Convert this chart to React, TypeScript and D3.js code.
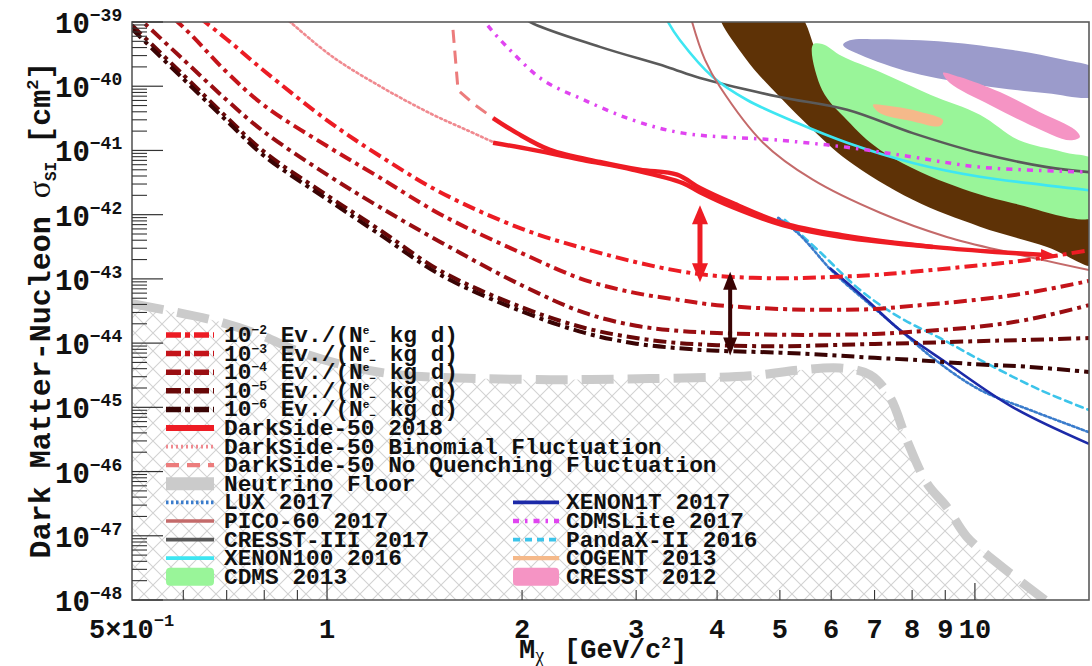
import React from "react";
import * as d3 from "d3";

type Pt = [number, number];

// ---------- data ----------
// Mass grid (GeV/c^2) for the projected-sensitivity curves
const MASS_GRID = [0.5, 0.6, 0.7, 0.8, 1.0, 1.2, 1.5, 2.0, 2.5, 3, 3.5, 4, 5, 6, 7, 8, 10, 12, 15];

// Projected sensitivity (cm^2) for background levels of 1e-2 ... 1e-6 Ev./(N_e- kg d)
const PROJ_1E2 = [6e-39, 1.8e-39, 5.4e-40, 1.73e-40, 2.95e-41, 8.5e-42, 2.2e-42, 6.0e-43, 2.95e-43, 1.82e-43, 1.32e-43, 1.11e-43, 1.02e-43, 1.07e-43, 1.15e-43, 1.29e-43, 1.6e-43, 1.95e-43, 2.8e-43];
const PROJ_1E3 = [4e-39, 8.3e-40, 1.66e-40, 5.0e-41, 1.17e-41, 3.9e-42, 1.0e-42, 2.5e-43, 9.6e-44, 6.0e-44, 4.7e-44, 3.9e-44, 3.4e-44, 3.3e-44, 3.4e-44, 3.8e-44, 4.7e-44, 6.0e-44, 9.3e-44];
const PROJ_1E4 = [1.45e-39, 2.6e-40, 6.1e-41, 1.94e-41, 4.2e-42, 1.35e-42, 3.7e-43, 7.9e-44, 2.95e-44, 1.86e-44, 1.55e-44, 1.44e-44, 1.35e-44, 1.35e-44, 1.39e-44, 1.5e-44, 1.78e-44, 2.3e-44, 3.9e-44];
const PROJ_1E5 = [8.9e-40, 1.5e-40, 3.3e-41, 9.5e-42, 2.0e-42, 6.0e-43, 1.32e-43, 3.6e-44, 1.72e-44, 1.2e-44, 1.0e-44, 9.3e-45, 8.9e-45, 9.3e-45, 9.7e-45, 1.0e-44, 1.07e-44, 1.12e-44, 1.2e-44];
const PROJ_1E6 = [7.8e-40, 1.3e-40, 2.9e-41, 8.2e-42, 1.74e-42, 5.1e-43, 1.14e-43, 3.1e-44, 1.44e-44, 9.8e-45, 8.3e-45, 7.6e-45, 7.1e-45, 6.5e-45, 5.9e-45, 5.5e-45, 4.7e-45, 4.3e-45, 3.55e-45];
const PROJ_EXPONENTS = ["-2", "-3", "-4", "-5", "-6"];

// Experimental limits: [mass GeV/c^2, cross-section cm^2]
const DS50_UPPER: Pt[] = [[1.804, 3.2e-41], [1.965, 1.86e-41], [2.209, 1.02e-41], [2.638, 6.6e-42], [3.04, 5.0e-42], [3.47, 4.2e-42], [3.764, 2.6e-42], [4.23, 1.51e-42], [5.05, 7.4e-43], [6.23, 4.8e-43], [8.61, 3.15e-43], [10.93, 2.6e-43], [12.83, 2.35e-43]];
const DS50_LOWER: Pt[] = [[1.804, 1.32e-41], [2.079, 1.02e-41], [2.484, 7.1e-42], [2.967, 5.0e-42], [3.543, 3.1e-42], [3.764, 2.24e-42], [4.23, 1.31e-42], [5.05, 6.9e-43], [6.23, 4.5e-43], [8.61, 3.15e-43]];
const DS50_BINOMIAL: Pt[] = [[0.85, 1.3e-39], [0.877, 1e-39], [1.021, 2.85e-40], [1.22, 9.4e-41], [1.457, 3.6e-41], [1.639, 2.1e-41], [1.804, 1.35e-41]];
const DS50_NOQUENCH: Pt[] = [[1.555, 1.6e-39], [1.593, 8.7e-41], [1.692, 5.1e-41], [1.804, 3.2e-41]];
const CDMSLITE_2017: Pt[] = [[1.70, 1.6e-39], [1.753, 1e-39], [1.916, 3.66e-40], [2.154, 1.25e-40], [2.484, 6.2e-41], [2.967, 2.96e-41], [3.543, 1.86e-41], [5.0, 1.44e-41], [6.35, 1.12e-41], [8.02, 7.9e-42], [10.18, 5.5e-42], [15, 4.6e-42]];
const CRESST3_2017: Pt[] = [[1.95, 1.5e-39], [2.058, 1e-39], [2.638, 4.1e-40], [3.347, 2.0e-40], [3.764, 1.34e-40], [5.0, 6.8e-41], [6.35, 4.3e-41], [8.02, 1.86e-41], [10.18, 9.1e-42], [12.92, 5.5e-42], [15, 4.6e-42]];
const XENON100_2016: Pt[] = [[3.30, 1.5e-39], [3.36, 1e-39], [3.506, 5.2e-40], [3.94, 1.39e-40], [4.45, 6.1e-41], [5.31, 2.7e-41], [6.35, 1.32e-41], [8.02, 6.4e-42], [10.18, 3.9e-42], [15, 2.4e-42]];
const PICO60_2017: Pt[] = [[3.62, 1.6e-39], [3.66, 1e-39], [3.83, 2.6e-40], [4.04, 9.8e-41], [4.71, 1.32e-41], [5.62, 3.5e-42], [7.14, 1.07e-42], [9.05, 4.5e-43], [11.45, 2.5e-43], [15, 1.37e-43]];
const LUX_2017: Pt[] = [[4.97, 8.9e-43], [5.37, 4.8e-43], [6.04, 1.28e-43], [6.81, 4.4e-44], [7.66, 1.6e-44], [8.68, 5.5e-45], [10.18, 1.87e-45], [12.16, 9.1e-46], [15, 4.1e-46]];
const PANDAX2_2016: Pt[] = [[5.09, 8.3e-43], [5.77, 2.6e-43], [6.65, 6.7e-44], [7.66, 2.5e-44], [8.83, 1.2e-44], [10.18, 5.5e-45], [12.6, 1.87e-45], [15, 9.1e-46]];
const XENON1T_2017: Pt[] = [[5.97, 1.48e-43], [6.81, 4.7e-44], [7.66, 1.6e-44], [9.05, 4.9e-45], [11.45, 1.0e-45], [15, 2.7e-46]];
const NEUTRINO_FLOOR: Pt[] = [[0.5, 4.1e-44], [0.676, 2.2e-44], [0.788, 1.34e-44], [0.908, 7.3e-45], [1.085, 4.3e-45], [1.296, 3.2e-45], [1.548, 2.9e-45], [2.209, 2.7e-45], [3.15, 2.8e-45], [4.5, 3.1e-45], [5.37, 3.8e-45], [6.19, 4.1e-45], [6.89, 3.2e-45], [7.39, 1.45e-45], [7.85, 3.1e-46], [8.43, 6.6e-47], [9.05, 2.8e-47], [9.72, 9.6e-48], [10.81, 3.8e-48], [12.83, 1e-48]];

// Signal / allowed regions (closed contours)
const DAMA_REGION: Pt[] = [[4.04, 1.5e-39], [5.28, 1.5e-39], [5.66, 3.9e-40], [5.97, 7e-41], [6.65, 2.5e-41], [7.66, 1.02e-41], [9.48, 4.2e-42], [11.73, 2.0e-42], [15.5, 1.6e-42], [15.5, 1.6e-43], [12.92, 3.15e-43], [10.18, 6.5e-43], [8.02, 1.7e-42], [6.35, 7.1e-42], [5.62, 2.1e-41], [5.0, 6.8e-41], [4.42, 2.75e-40]];
const CDMS_2013: Pt[] = [[5.62, 4.4e-40], [5.81, 4.55e-40], [6.23, 2.95e-40], [7.14, 1.66e-40], [8.55, 7.3e-41], [10.18, 3.6e-41], [11.7, 1.44e-41], [13.67, 9.5e-42], [15.5, 6.5e-42], [15.5, 9.5e-43], [11.45, 1.51e-42], [9.05, 3.1e-42], [7.14, 1.02e-41], [6.35, 2.95e-41], [5.81, 8.7e-41]];
const LAVENDER_REGION: Pt[] = [[6.26, 4.4e-40], [6.41, 5.2e-40], [7.14, 5.4e-40], [9.05, 4.9e-40], [11.45, 3.66e-40], [13.67, 2.6e-40], [15.3, 1.9e-40], [15.6, 1.2e-40], [15.3, 7e-41], [12.92, 7.8e-41], [10.18, 1.04e-40], [8.02, 1.62e-40], [6.65, 3.1e-40]];
const CRESST_2012: Pt[] = [[8.93, 1.62e-40], [9.48, 1.39e-40], [10.93, 8.1e-41], [12.6, 3.95e-41], [14.27, 2.1e-41], [14.52, 1.62e-41], [14.02, 1.44e-41], [12.16, 2.5e-41], [10.55, 5.1e-41], [9.15, 1.12e-40]];
const COGENT_2013: Pt[] = [[6.96, 5.1e-41], [7.39, 4.9e-41], [8.22, 4.0e-41], [8.93, 2.95e-41], [8.83, 2.4e-41], [7.94, 2.9e-41], [7.14, 3.8e-41]];

// Gain arrows: [mass, from, to]
const RED_ARROW: [number, number, number] = [3.764, 1.4e-42, 8.9e-44];
const DARK_ARROW: [number, number, number] = [4.19, 1.29e-43, 6.4e-45];

// Axis ticks
const Y_EXPONENTS = [-39, -40, -41, -42, -43, -44, -45, -46, -47, -48];
const X_LABELS = [1, 2, 3, 4, 5, 6, 7, 8, 9, 10];
const X_MINOR = [0.6, 0.7, 0.8, 0.9, 2, 3, 4, 5, 6, 7, 8, 9];

// Legend labels
const LEGEND_COL1 = ["DarkSide-50 2018", "DarkSide-50 Binomial Fluctuation", "DarkSide-50 No Quenching Fluctuation", "Neutrino Floor", "LUX 2017", "PICO-60 2017", "CRESST-III 2017", "XENON100 2016", "CDMS 2013"];
const LEGEND_COL2 = ["XENON1T 2017", "CDMSLite 2017", "PandaX-II 2016", "COGENT 2013", "CRESST 2012"];

// ---------- styles ----------
const W = 1092, H = 666;
const M = { left: 132, right: 1089, top: 22, bottom: 600 };
const MONO = '"Liberation Mono", "DejaVu Sans Mono", monospace';
const SERIF = '"Liberation Serif", "DejaVu Serif", serif';
const PROJ_COLORS = ["#ec1c24", "#c4141a", "#9a0e12", "#690808", "#3a0404"];
const PROJ_DASH = "13,5,4,5";
const MINUS = "\u2212";

type LineStyle = { stroke: string; width: number; dash?: string; fill?: boolean };
const STYLE: Record<string, LineStyle> = {
  "DarkSide-50 2018": { stroke: "#ee1c24", width: 4.5 },
  "DarkSide-50 Binomial Fluctuation": { stroke: "#f08a90", width: 2.6, dash: "2,3" },
  "DarkSide-50 No Quenching Fluctuation": { stroke: "#ec7c7c", width: 3, dash: "13,8" },
  "Neutrino Floor": { stroke: "#cbcbcb", width: 9, dash: "32,14" },
  "LUX 2017": { stroke: "#3a7ccc", width: 2.6, dash: "2.5,2.5" },
  "PICO-60 2017": { stroke: "#c46a6a", width: 2 },
  "CRESST-III 2017": { stroke: "#5a5a5a", width: 2.6 },
  "XENON100 2016": { stroke: "#3ee6f2", width: 2.6 },
  "CDMS 2013": { stroke: "#99f599", width: 0, fill: true },
  "XENON1T 2017": { stroke: "#1c2aa8", width: 2.6 },
  "CDMSLite 2017": { stroke: "#e044f0", width: 3.5, dash: "6,6,2.5,6" },
  "PandaX-II 2016": { stroke: "#3cc4ea", width: 2.6, dash: "7,5" },
  "COGENT 2013": { stroke: "#f5b98a", width: 3 },
  "CRESST 2012": { stroke: "#f594c4", width: 0, fill: true },
};

export default function App() {
  const x = d3.scaleLog().domain([0.5, 15]).range([M.left, M.right]);
  const y = d3.scaleLog().domain([1e-48, 1e-39]).range([M.bottom, M.top]);

  const smooth = d3.line<Pt>().x((d) => x(d[0])).y((d) => y(d[1])).curve(d3.curveCatmullRom.alpha(0.5));
  const straight = d3.line<Pt>().x((d) => x(d[0])).y((d) => y(d[1])).curve(d3.curveLinear);
  const closed = d3.line<Pt>().x((d) => x(d[0])).y((d) => y(d[1])).curve(d3.curveCatmullRomClosed.alpha(0.5));
  const floorArea = d3
    .area<Pt>()
    .x((d) => x(d[0]))
    .y0(M.bottom)
    .y1((d) => y(d[1]))
    .curve(d3.curveCatmullRom.alpha(0.5));

  const projSeries = [PROJ_1E2, PROJ_1E3, PROJ_1E4, PROJ_1E5, PROJ_1E6].map((vals) =>
    MASS_GRID.map((m, i) => [m, vals[i]] as Pt)
  );

  const limitPath = (name: string, pts: Pt[], gen = smooth) => {
    const s = STYLE[name];
    return (
      <path
        d={gen(pts) || ""}
        fill="none"
        stroke={s.stroke}
        strokeWidth={s.width}
        strokeDasharray={s.dash}
        strokeLinecap={s.dash && s.width < 3 ? "round" : "butt"}
        strokeLinejoin="round"
      />
    );
  };

  const arrow = (a: [number, number, number], color: string, shaft: number, hw: number, hh: number) => {
    const ax = x(a[0]);
    const y1 = y(a[1]);
    const y2 = y(a[2]);
    return (
      <g>
        <line x1={ax} x2={ax} y1={y1 + hh - 2} y2={y2 - hh + 2} stroke={color} strokeWidth={shaft} />
        <polygon points={`${ax},${y1} ${ax - hw},${y1 + hh} ${ax + hw},${y1 + hh}`} fill={color} />
        <polygon points={`${ax},${y2} ${ax - hw},${y2 - hh} ${ax + hw},${y2 - hh}`} fill={color} />
      </g>
    );
  };

  // minor y ticks
  const yMinor: number[] = [];
  for (let e = -48; e < -39; e++) for (let j = 2; j <= 9; j++) yMinor.push(j * Math.pow(10, e));

  // legend geometry
  const rowY = (i: number) => 335 + i * 18.6;
  const sym1 = [166, 214];
  const sym2 = [513, 559];
  const txt1 = 224;
  const txt2 = 566;
  const LFS = 22.8;

  const legendSymbol = (name: string, x0: number, x1: number, cy: number) => {
    const s = STYLE[name];
    if (s.fill) return <rect x={x0} y={cy - 9} width={x1 - x0} height={18} rx={4} fill={s.stroke} />;
    const w = name === "Neutrino Floor" ? 13 : name === "DarkSide-50 2018" ? 6 : Math.max(s.width + 1.2, 3.5);
    const dash = name === "Neutrino Floor" ? undefined : s.dash;
    return <line x1={x0} x2={x1} y1={cy} y2={cy} stroke={s.stroke} strokeWidth={w} strokeDasharray={dash} />;
  };

  const ds50End = DS50_UPPER[DS50_UPPER.length - 1];
  const ex = x(ds50End[0]);
  const ey = y(ds50End[1]);

  return (
    <svg
      width={W}
      height={H}
      viewBox={`0 0 ${W} ${H}`}
      style={{ position: "absolute", left: 0, top: 0, background: "#fff" }}
    >
      <defs>
        <clipPath id="plot">
          <rect x={M.left} y={M.top} width={M.right - M.left} height={M.bottom - M.top} />
        </clipPath>
        <pattern id="hatch" width={18} height={18} patternUnits="userSpaceOnUse">
          <path d="M0,0 L18,18 M18,0 L0,18" stroke="#d2d2d2" strokeWidth={1.1} fill="none" />
        </pattern>
      </defs>
      <rect x={0} y={0} width={W} height={H} fill="#fff" />

      <g clipPath="url(#plot)">
        {/* region below the neutrino floor */}
        <path d={floorArea(NEUTRINO_FLOOR) || ""} fill="url(#hatch)" />
        {limitPath("Neutrino Floor", NEUTRINO_FLOOR)}

        {/* signal regions */}
        <path d={closed(DAMA_REGION) || ""} fill="#5e3206" />
        <path d={closed(CDMS_2013) || ""} fill={STYLE["CDMS 2013"].stroke} />
        <path d={closed(LAVENDER_REGION) || ""} fill="#9b9bcb" />
        <path d={closed(CRESST_2012) || ""} fill={STYLE["CRESST 2012"].stroke} />
        <path d={closed(COGENT_2013) || ""} fill={STYLE["COGENT 2013"].stroke} />

        {/* experimental limits */}
        {limitPath("CRESST-III 2017", CRESST3_2017)}
        {limitPath("XENON100 2016", XENON100_2016)}
        {limitPath("CDMSLite 2017", CDMSLITE_2017)}
        {limitPath("PICO-60 2017", PICO60_2017)}
        {limitPath("PandaX-II 2016", PANDAX2_2016)}
        {limitPath("LUX 2017", LUX_2017)}
        {limitPath("XENON1T 2017", XENON1T_2017)}
        {limitPath("DarkSide-50 Binomial Fluctuation", DS50_BINOMIAL)}
        {limitPath("DarkSide-50 No Quenching Fluctuation", DS50_NOQUENCH, straight)}

        {/* projections */}
        {projSeries.map((pts, i) => (
          <path
            key={i}
            d={smooth(pts) || ""}
            fill="none"
            stroke={PROJ_COLORS[i]}
            strokeWidth={4}
            strokeDasharray={PROJ_DASH}
          />
        ))}

        {limitPath("DarkSide-50 2018", DS50_UPPER)}
        {limitPath("DarkSide-50 2018", DS50_LOWER)}
        <polygon points={`${ex + 10},${ey} ${ex - 4},${ey - 6} ${ex - 4},${ey + 6}`} fill="#ee1c24" />

        {arrow(RED_ARROW, "#ee1c24", 5, 8, 19)}
        {arrow(DARK_ARROW, "#3a0404", 4, 7, 18)}
      </g>

      {/* frame */}
      <rect
        x={M.left}
        y={M.top}
        width={M.right - M.left}
        height={M.bottom - M.top}
        fill="none"
        stroke="#5a5a5a"
        strokeWidth={1.6}
      />

      {/* y ticks */}
      {Y_EXPONENTS.map((e) => (
        <line key={"ym" + e} x1={M.left} x2={M.left + 31} y1={y(Math.pow(10, e))} y2={y(Math.pow(10, e))} stroke="#333" strokeWidth={1.2} />
      ))}
      {yMinor.map((v, i) => (
        <line key={"yn" + i} x1={M.left} x2={M.left + 15} y1={y(v)} y2={y(v)} stroke="#333" strokeWidth={1.1} />
      ))}

      {/* x ticks */}
      {[1, 10].map((v) => (
        <line key={"xm" + v} x1={x(v)} x2={x(v)} y1={M.bottom} y2={M.bottom - 17} stroke="#333" strokeWidth={1.2} />
      ))}
      {X_MINOR.map((v) => (
        <line key={"xn" + v} x1={x(v)} x2={x(v)} y1={M.bottom} y2={M.bottom - 10} stroke="#333" strokeWidth={1.1} />
      ))}

      {/* y tick labels */}
      {Y_EXPONENTS.map((e) => {
        const yy = y(Math.pow(10, e));
        return (
          <text key={"yl" + e} x={55} y={yy + 11} fontFamily={MONO} fontWeight="bold" fill="#111" fontSize={29}>
            10
            <tspan fontSize={18} dy={-12}>{String(e).replace("-", MINUS)}</tspan>
          </text>
        );
      })}

      {/* x tick labels */}
      <g fontFamily={MONO} fontWeight="bold" fill="#111">
        {X_LABELS.map((v) => (
          <text key={"xl" + v} x={x(v)} y={638} fontSize={27} textAnchor="middle">
            {v}
          </text>
        ))}
        <text x={89} y={638} fontSize={27}>
          5×10
          <tspan fontSize={17} dy={-12}>{MINUS + "1"}</tspan>
        </text>
      </g>

      {/* axis titles */}
      <text x={519} y={658} fontFamily={MONO} fontWeight="bold" fontSize={27} fill="#111">
        M
        <tspan fontFamily={SERIF} fontWeight="normal" fontSize={20} dy={4}>χ</tspan>
        <tspan dx={20} dy={-4}>[GeV/c</tspan>
        <tspan fontSize={16} dy={-10}>2</tspan>
        <tspan dy={10}>]</tspan>
      </text>
      <text
        transform="translate(50,310) rotate(-90)"
        textAnchor="middle"
        fontFamily={MONO}
        fontWeight="bold"
        fontSize={30}
        fill="#111"
      >
        Dark Matter-Nucleon{" "}
        <tspan fontFamily={SERIF} fontWeight="normal" fontSize={32}>σ</tspan>
        <tspan fontSize={16} dy={6}>SI</tspan>
        <tspan dy={-6}> [cm</tspan>
        <tspan fontSize={17} dy={-12}>2</tspan>
        <tspan dy={12}>]</tspan>
      </text>

      {/* legend */}
      <g fontFamily={MONO} fontWeight="bold" fill="#111">
        {PROJ_EXPONENTS.map((ex2, i) => {
          const cy = rowY(i);
          return (
            <g key={"pl" + i}>
              <line x1={sym1[0]} x2={sym1[1]} y1={cy} y2={cy} stroke={PROJ_COLORS[i]} strokeWidth={5.5} strokeDasharray="15,4,5,4" />
              <text x={txt1} y={cy + 7} fontSize={LFS}>
                10
                <tspan fontSize={13} dy={-8}>{ex2.replace("-", MINUS)}</tspan>
                <tspan dy={8}> Ev./(N</tspan>
                <tspan fontSize={11} dy={-8}>e</tspan>
                <tspan fontSize={11} dy={11}>{MINUS}</tspan>
                <tspan dy={-3}> kg d)</tspan>
              </text>
            </g>
          );
        })}
        {LEGEND_COL1.map((name, j) => {
          const cy = rowY(j + 5);
          return (
            <g key={"l1" + j}>
              {legendSymbol(name, sym1[0], sym1[1], cy)}
              <text x={txt1} y={cy + 7} fontSize={LFS}>{name}</text>
            </g>
          );
        })}
        {LEGEND_COL2.map((name, j) => {
          const cy = rowY(j + 9);
          return (
            <g key={"l2" + j}>
              {legendSymbol(name, sym2[0], sym2[1], cy)}
              <text x={txt2} y={cy + 7} fontSize={LFS}>{name}</text>
            </g>
          );
        })}
      </g>
    </svg>
  );
}
